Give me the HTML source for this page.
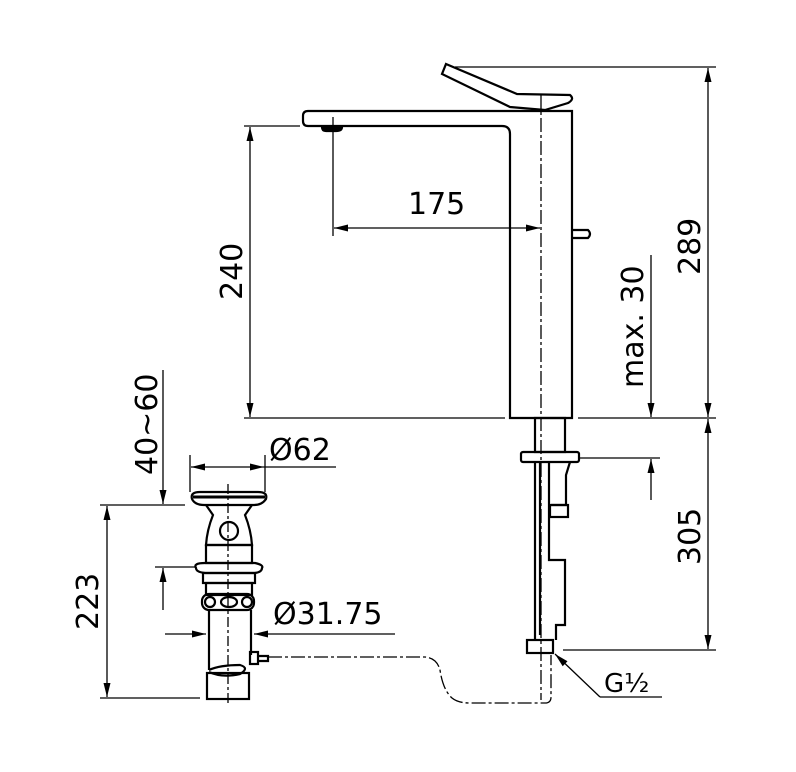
<!DOCTYPE html>
<html><head><style>body{margin:0;background:#fff}svg{display:block}text{font-family:"DejaVu Sans","Liberation Sans",sans-serif;fill:#000}</style></head><body>
<svg width="796" height="772" viewBox="0 0 796 772" xmlns="http://www.w3.org/2000/svg">
<g fill="none" stroke="#000" stroke-width="1.3">
<line x1="455" y1="67" x2="716" y2="67"/>
<line x1="244" y1="126" x2="300" y2="126"/>
<line x1="244" y1="418" x2="505" y2="418"/>
<line x1="578" y1="418" x2="716" y2="418"/>
<line x1="580" y1="458" x2="660" y2="458"/>
<line x1="563" y1="650" x2="716" y2="650"/>
<line x1="333" y1="117" x2="333" y2="236"/>
<line x1="250" y1="127" x2="250" y2="417"/>
<line x1="334" y1="228" x2="540" y2="228"/>
<line x1="708" y1="68" x2="708" y2="417"/>
<line x1="708" y1="419" x2="708" y2="649"/>
<line x1="651" y1="255" x2="651" y2="417"/>
<line x1="651" y1="500" x2="651" y2="459"/>
<g stroke-width="2.2">
<path d="M308,111 L572,111 L572,418 L510,418 L510,134 Q510,126 502,126 L308,126 Q303,126 303,121 L303,116 Q303,111 308,111Z"/>
<path d="M446,64 L517,94 L570,95 Q575,99 568,103 L545,110 L510,107 L442,74 Z"/>
<path d="M572,230 L588,230 Q592,234 588,238 L572,238"/>
<path d="M322,127 L342,127 Q342,131 336,131 L326,131 Q322,131 322,127Z" fill="#000"/>
<rect x="535" y="418" width="30" height="34"/>
<rect x="521" y="452" width="58" height="10" rx="2"/>
<line x1="535" y1="462" x2="535" y2="640"/>
<line x1="540" y1="462" x2="540" y2="635"/>
<path d="M549,462 L549,560 L565,560 L565,625 L556,625 L556,640"/>
<path d="M570,462 L566,475 L566,505 L551,505"/>
<rect x="550" y="505" width="18" height="12"/>
<rect x="527" y="640" width="26" height="13"/>
</g>
<line x1="541" y1="95" x2="541" y2="700" stroke-dasharray="14,3,3,3"/>
<path d="M600,697 L662,697"/><line x1="600" y1="697" x2="555" y2="654"/>
<path d="M268,657 L425,657 Q437,658 440,670 Q443,690 452,698 Q458,703 470,703 L545,703 Q551,703 551,697 L551,655" stroke-dasharray="14,3,3,3"/>
<line x1="190" y1="455" x2="190" y2="492"/>
<line x1="265" y1="455" x2="265" y2="492"/>
<line x1="191" y1="467" x2="336" y2="467"/>
<line x1="163" y1="370" x2="163" y2="504"/>
<line x1="163" y1="610" x2="163" y2="568"/>
<line x1="100" y1="505" x2="185" y2="505"/>
<line x1="155" y1="567" x2="195" y2="567"/>
<line x1="107" y1="506" x2="107" y2="697"/>
<line x1="100" y1="698" x2="200" y2="698"/>
<line x1="165" y1="634" x2="206" y2="634"/>
<line x1="395" y1="634" x2="254" y2="634"/>
<g stroke-width="2.2">
<path d="M192,499 Q190,492 200,492 L258,492 Q268,492 266,499 Q262,505 254,505 L204,505 Q195,505 192,499Z"/>
<line x1="193" y1="497" x2="265" y2="497" stroke-width="3"/>
<path d="M206,505 L213,515 Q207,530 206,545 L252,545 Q251,530 245,515 L252,505"/>
<circle cx="229" cy="531" r="9"/>
<rect x="206" y="545" width="46" height="18"/>
<path d="M196,568 Q193,563 205,563 L255,563 Q264,565 262,568 Q262,572 255,573 L205,573 Q196,572 196,568Z"/>
<rect x="203" y="573" width="52" height="10"/>
<rect x="206" y="583" width="46" height="12"/>
<rect x="202" y="594" width="52" height="16" rx="7"/>
<circle cx="210" cy="602" r="5"/><ellipse cx="229" cy="602" rx="8" ry="5"/><circle cx="247" cy="602" r="5"/>
<path d="M209,610 L209,670 M251,610 L251,655"/>
<rect x="250" y="652" width="8" height="12"/>
<path d="M258,656 L268,656 L268,661 L258,661"/>
<path d="M209,670 Q220,665 240,665 Q250,668 240,674 Q222,678 209,672"/>
<rect x="207" y="673" width="42" height="26"/>
</g>
<line x1="228" y1="484" x2="228" y2="706" stroke-dasharray="10,3,3,3"/>
</g>
<g fill="#000">
<polygon points="250,127 246.5,141 253.5,141"/>
<polygon points="250,417 246.5,403 253.5,403"/>
<polygon points="334,228 348,224.5 348,231.5"/>
<polygon points="540,228 526,224.5 526,231.5"/>
<polygon points="708,68 704.5,82 711.5,82"/>
<polygon points="708,417 704.5,403 711.5,403"/>
<polygon points="708,419 704.5,433 711.5,433"/>
<polygon points="708,649 704.5,635 711.5,635"/>
<polygon points="651,417 647.5,403 654.5,403"/>
<polygon points="651,459 647.5,473 654.5,473"/>
<polygon points="191,467 205,463.5 205,470.5"/>
<polygon points="264,467 250,463.5 250,470.5"/>
<polygon points="163,504 159.5,490 166.5,490"/>
<polygon points="163,568 159.5,582 166.5,582"/>
<polygon points="107,506 103.5,520 110.5,520"/>
<polygon points="107,697 103.5,683 110.5,683"/>
<polygon points="206,634 192,630.5 192,637.5"/>
<polygon points="254,634 268,630.5 268,637.5"/>
<polygon points="555,654 567.5,661.2 562.7,666.2"/>
</g>
<g font-size="30">
<text x="408" y="214">175</text>
<text transform="translate(242,300) rotate(-90)">240</text>
<text transform="translate(700,275) rotate(-90)">289</text>
<text transform="translate(643,388) rotate(-90)">max. 30</text>
<text transform="translate(700,565) rotate(-90)">305</text>
<text transform="translate(157,475) rotate(-90)">40~60</text>
<text x="269" y="460">Ø62</text>
<text transform="translate(98,630) rotate(-90)">223</text>
<text x="273" y="624">Ø31.75</text>
<text x="604" y="692" font-size="26">G½</text>
</g>
</svg>
</body></html>
